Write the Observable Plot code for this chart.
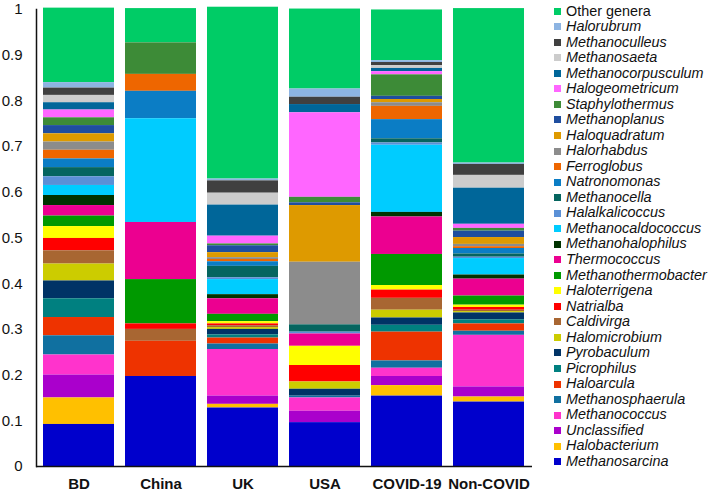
<!DOCTYPE html>
<html><head><meta charset="utf-8">
<script src="https://cdn.jsdelivr.net/npm/d3@7"></script>
<script src="https://cdn.jsdelivr.net/npm/@observablehq/plot@0.6"></script>
<style>
body{margin:0;background:#fff;font-family:Arial,"Liberation Sans",sans-serif;}
#wrap{position:relative;width:711px;height:491px;}
#legend{position:absolute;left:554px;top:3.5px;font-size:14.4px;color:#111;}
.item{display:flex;align-items:center;height:15.54px;line-height:15.54px;white-space:nowrap;}
.sw{width:7px;height:7px;margin-right:5px;flex:none;}
.it{font-style:italic;}
</style></head><body><div id="wrap"><div id="chart"></div><div id="legend"></div></div>
<script>
const groups = ["BD", "China", "UK", "USA", "COVID-19", "Non-COVID"];
const genera = ["Other genera","Halorubrum","Methanoculleus","Methanosaeta","Methanocorpusculum","Halogeometricum","Staphylothermus","Methanoplanus","Haloquadratum","Halorhabdus","Ferroglobus","Natronomonas","Methanocella","Halalkalicoccus","Methanocaldococcus","Methanohalophilus","Thermococcus","Methanothermobacter","Haloterrigena","Natrialba","Caldivirga","Halomicrobium","Pyrobaculum","Picrophilus","Haloarcula","Methanosphaerula","Methanococcus","Unclassified","Halobacterium","Methanosarcina"];
const colors = ["#00cc66","#8db4e2","#404040","#cccccc","#006699","#ff66ff","#3d8b37","#1f4e9f","#de9a00","#8c8c8c","#ee6600","#0b7dc5","#05655f","#5b90d6","#00ccff","#003300","#ec0090","#009900","#ffff00","#ff0000","#a86632","#cccc00","#003366","#008080","#ee3300","#1070a0","#ff33cc","#aa00cc","#ffc000","#0000cc"];
// values in legend order (top to bottom)
const bd       = [0.163,0.012,0.016,0.016,0.016,0.017,0.017,0.018,0.018,0.018,0.019,0.019,0.020,0.019,0.022,0.022,0.023,0.023,0.026,0.027,0.029,0.037,0.039,0.041,0.040,0.042,0.044,0.050,0.058,0.092];
const china    = [0.075,0,0,0,0,0,0.069,0,0,0,0.037,0.060,0,0,0.227,0,0.125,0.097,0,0.012,0.026,0,0,0,0.077,0,0,0,0,0.197];
const uk       = [0.376,0.004,0.027,0.026,0.068,0.017,0.004,0.015,0.011,0.004,0.005,0.010,0.025,0.004,0.033,0.009,0.034,0.016,0.005,0.004,0.004,0.004,0.012,0.007,0.013,0.012,0.102,0.018,0.008,0.128];
const usa      = [0.175,0.018,0.016,0,0.018,0.185,0.012,0.006,0.124,0.137,0,0,0.016,0.004,0,0,0.027,0,0.042,0.036,0,0.016,0.015,0,0,0.004,0.029,0.025,0,0.096];
const covid    = [0.111,0.004,0.007,0.006,0.007,0.007,0.047,0.007,0.007,0.008,0.029,0.042,0.009,0.005,0.147,0.010,0.082,0.068,0.010,0.018,0.026,0.017,0.016,0.015,0.063,0.016,0.018,0.020,0.023,0.154];
const noncovid = [0.338,0.003,0.024,0.028,0.079,0.009,0.006,0.014,0.015,0.005,0.004,0.012,0.007,0.003,0.036,0.009,0.037,0.020,0.005,0.006,0.003,0.003,0.015,0.009,0.016,0.009,0.113,0.022,0.011,0.141];
const yTicks = [0,0.1,0.2,0.3,0.4,0.5,0.6,0.7,0.8,0.9,1];

const series = [bd, china, uk, usa, covid, noncovid];
const table = [];
groups.forEach((g, i) => series[i].forEach((v, j) => table.push({group: g, genus: genera[j], value: v})));

const chart = Plot.plot({
  width: 711, height: 491,
  marginLeft: 36, marginRight: 179, marginTop: 9, marginBottom: 25,
  style: {fontFamily: "Arial, 'Liberation Sans', sans-serif", fontSize: "15px", background: "#fff", color: "#111"},
  x: {domain: groups, paddingInner: 0.133, paddingOuter: 0.073, label: null},
  y: {domain: [0, 1], label: null},
  color: {domain: genera, range: colors},
  marks: [
    Plot.barY(table, Plot.stackY({order: genera.slice().reverse()}, {x: "group", y: "value", fill: "genus"})),
    Plot.axisY({ticks: yTicks, tickSize: 0, tickPadding: 14, tickFormat: d => String(+d.toFixed(1)), label: null}),
    Plot.axisX({tickSize: 0, tickPadding: 12, fontWeight: "bold", label: null}),
    Plot.ruleY([0], {stroke: "#111", strokeWidth: 1.5}),
    Plot.frame({anchor: "left", stroke: "#111", strokeWidth: 1.5})
  ]
});
document.getElementById("chart").appendChild(chart);

const legend = document.getElementById("legend");
genera.forEach((g, i) => {
  const row = document.createElement("div");
  row.className = "item";
  const sw = document.createElement("span");
  sw.className = "sw";
  sw.style.background = colors[i];
  const tx = document.createElement("span");
  tx.textContent = g;
  if (g !== "Other genera") tx.className = "it";
  row.appendChild(sw); row.appendChild(tx);
  legend.appendChild(row);
});
</script></body></html>
